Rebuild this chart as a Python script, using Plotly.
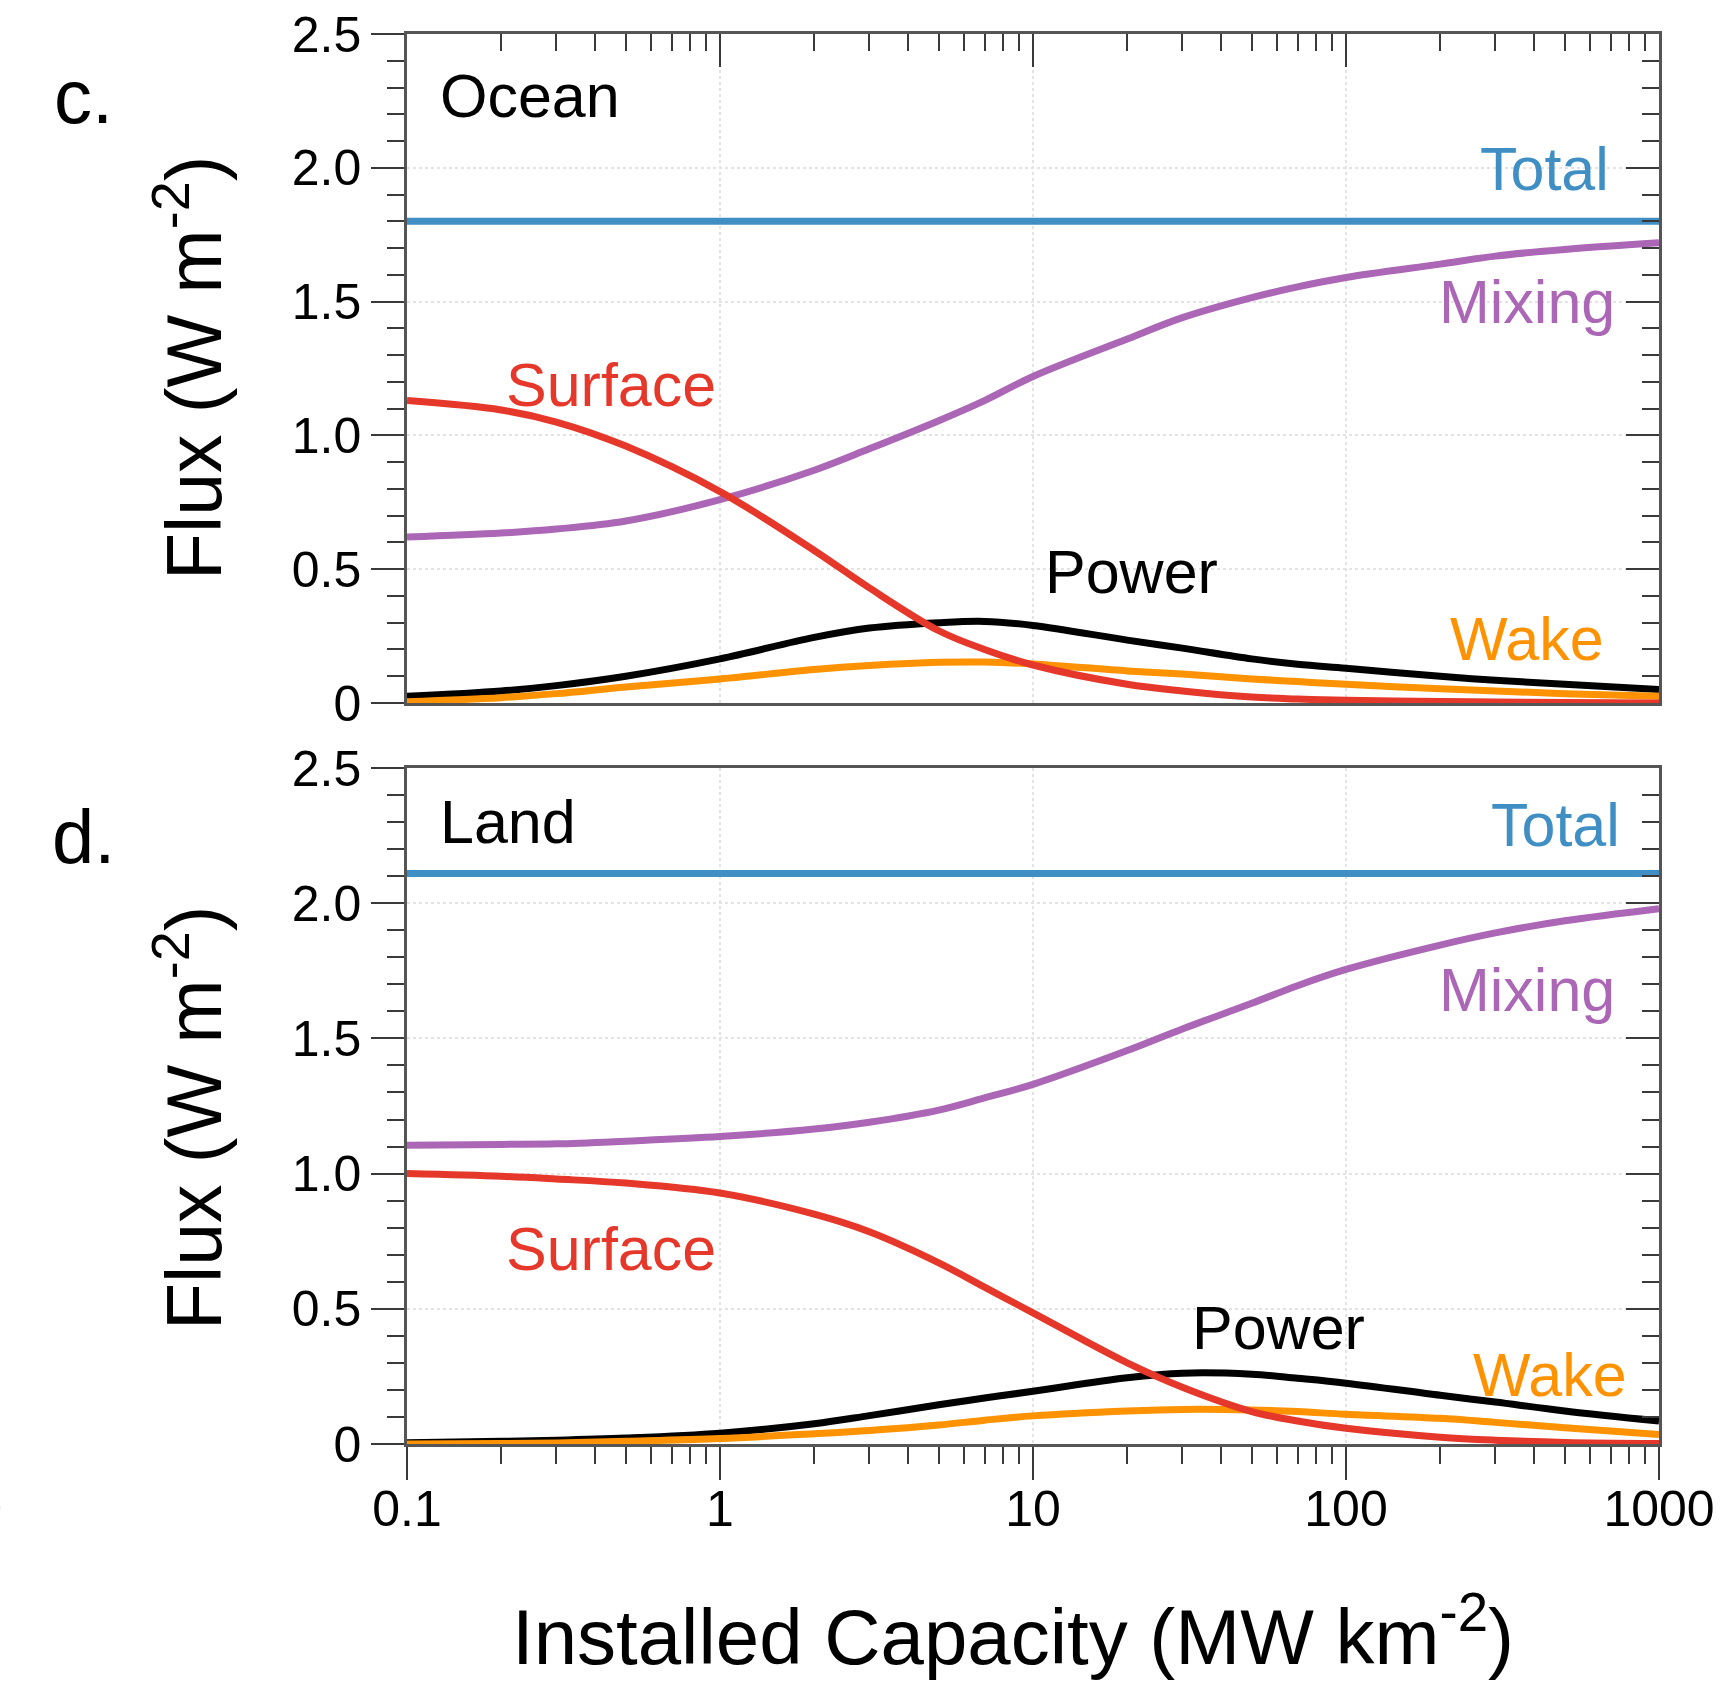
import plotly.graph_objects as go

# ---------------- data ----------------
capacity = [0.1, 0.2, 0.3, 0.5, 1, 2, 3, 5, 7, 10, 20, 30, 50, 70, 100, 200, 300, 500, 1000]

ocean_total = [1.8] * len(capacity)
ocean_mixing = [0.62, 0.635, 0.65, 0.68, 0.76, 0.87, 0.95, 1.055, 1.13, 1.22, 1.36, 1.44, 1.515, 1.555, 1.59, 1.64, 1.67, 1.695, 1.72]
ocean_surface = [1.13, 1.095, 1.05, 0.96, 0.79, 0.57, 0.43, 0.27, 0.20, 0.142, 0.07, 0.045, 0.022, 0.015, 0.01, 0.006, 0.004, 0.002, 0.0]
ocean_power = [0.025, 0.045, 0.065, 0.10, 0.165, 0.245, 0.28, 0.30, 0.305, 0.29, 0.235, 0.205, 0.165, 0.145, 0.13, 0.10, 0.085, 0.07, 0.05]
ocean_wake = [0.005, 0.02, 0.035, 0.06, 0.09, 0.125, 0.14, 0.152, 0.153, 0.146, 0.12, 0.108, 0.09, 0.08, 0.07, 0.053, 0.045, 0.035, 0.025]

land_total = [2.11] * len(capacity)
land_mixing = [1.105, 1.108, 1.11, 1.12, 1.137, 1.165, 1.19, 1.235, 1.28, 1.33, 1.455, 1.535, 1.63, 1.695, 1.755, 1.845, 1.89, 1.935, 1.98]
land_surface = [1.0, 0.99, 0.98, 0.965, 0.928, 0.85, 0.785, 0.67, 0.58, 0.485, 0.30, 0.21, 0.12, 0.085, 0.058, 0.025, 0.014, 0.006, 0.002]
land_power = [0.005, 0.01, 0.014, 0.022, 0.04, 0.075, 0.105, 0.145, 0.17, 0.195, 0.245, 0.262, 0.258, 0.243, 0.225, 0.18, 0.155, 0.122, 0.085]
land_wake = [0.0, 0.002, 0.004, 0.01, 0.02, 0.038, 0.05, 0.07, 0.088, 0.104, 0.122, 0.128, 0.126, 0.12, 0.11, 0.095, 0.08, 0.06, 0.035]

x_tickvals = [0.1, 1, 10, 100, 1000]
x_ticktext = ["0.1", "1", "10", "100", "1000"]
y_tickvals = [0, 0.5, 1.0, 1.5, 2.0, 2.5]
y_ticktext = ["0", "0.5", "1.0", "1.5", "2.0", "2.5"]

# ---------------- style ----------------
W, H = 1736, 1681
FONT = "Liberation Sans, Arial, Helvetica, sans-serif"
C_TOTAL = "#3f8fc5"
C_MIX = "#ab66b6"
C_SURF = "#e5382a"
C_POWER = "#000000"
C_WAKE = "#ff9200"
LW = 7

x_minor = [m * 10 ** d for d in range(-1, 3) for m in range(2, 10)]

def px_x(p):
    return p / W

def px_y(p):
    return 1 - p / H

xdom = [px_x(407), px_x(1659)]
ydom_top = [px_y(703), px_y(34)]
ydom_bot = [px_y(1444), px_y(768)]

fig = go.Figure()

def add_series(xa, ya, total, mixing, power, wake, surface):
    for vals, col in [(total, C_TOTAL), (mixing, C_MIX), (power, C_POWER),
                      (wake, C_WAKE), (surface, C_SURF)]:
        fig.add_trace(go.Scatter(x=capacity, y=vals, mode="lines",
                                 line=dict(color=col, width=LW, shape="spline", smoothing=1.0),
                                 xaxis=xa, yaxis=ya, hoverinfo="skip"))

add_series("x", "y", ocean_total, ocean_mixing, ocean_power, ocean_wake, ocean_surface)
add_series("x2", "y2", land_total, land_mixing, land_power, land_wake, land_surface)

# empty traces so that the mirror (frame) axes get drawn
for xa, ya in [("x3", "y"), ("x", "y3"), ("x4", "y2"), ("x2", "y4")]:
    fig.add_trace(go.Scatter(x=[None], y=[None], mode="lines", xaxis=xa, yaxis=ya,
                             hoverinfo="skip", showlegend=False))

AX_LINE = "#555555"
TICK_C = "#3a3a3a"
GRID = "#e3e3e3"
MAJ, MIN = 33, 17

def xbase(**kw):
    d = dict(type="log", range=[-1, 3], domain=xdom, showline=True, linecolor=AX_LINE,
             linewidth=2.5, zeroline=False, showgrid=True, gridcolor=GRID, griddash="dot",
             gridwidth=1.5, tickvals=x_tickvals, ticktext=x_ticktext, automargin=False,
             tickfont=dict(family=FONT, size=50, color="black"))
    d.update(kw)
    return d

def ybase(**kw):
    d = dict(range=[0, 2.5], showline=True, linecolor=AX_LINE, linewidth=2.5,
             zeroline=False, showgrid=True, gridcolor=GRID, griddash="dot", gridwidth=1.5,
             tickvals=y_tickvals, ticktext=y_ticktext, automargin=False,
             tickfont=dict(family=FONT, size=50, color="black"))
    d.update(kw)
    return d

yminor_out = dict(dtick=0.1, tick0=0, ticks="outside", ticklen=MIN, tickwidth=2,
                  tickcolor=TICK_C, showgrid=False)
yminor_in = dict(dtick=0.1, tick0=0, ticks="inside", ticklen=MIN, tickwidth=2,
                 tickcolor=TICK_C, showgrid=False)

fig.update_layout(
    width=W, height=H, margin=dict(l=0, r=0, t=0, b=0, pad=0, autoexpand=False),
    paper_bgcolor="white", plot_bgcolor="white", showlegend=False,
    # top panel
    xaxis=xbase(anchor="y", ticks="", showticklabels=False),
    yaxis=ybase(domain=ydom_top, anchor="x", ticks="outside", ticklen=MAJ, tickwidth=2,
                tickcolor=TICK_C, minor=yminor_out),
    xaxis3=xbase(anchor="y", overlaying="x", side="top", showgrid=False, ticks="inside",
                 ticklen=MAJ, tickwidth=2, tickcolor=TICK_C, showticklabels=False,
                 minor=dict(tickmode="array", tickvals=x_minor, ticks="inside", ticklen=MIN,
                            tickwidth=2, tickcolor=TICK_C, showgrid=False)),
    yaxis3=ybase(anchor="x", overlaying="y", side="right", showgrid=False, ticks="inside",
                 ticklen=MAJ, tickwidth=2, tickcolor=TICK_C, showticklabels=False,
                 minor=yminor_in),
    # bottom panel
    xaxis2=xbase(anchor="y2", ticks="outside", ticklen=MAJ, tickwidth=2, tickcolor=TICK_C,
                 ticklabelstandoff=-14,
                 minor=dict(tickmode="array", tickvals=x_minor, ticks="outside", ticklen=MIN,
                            tickwidth=2, tickcolor=TICK_C, showgrid=False)),
    yaxis2=ybase(domain=ydom_bot, anchor="x2", ticks="outside", ticklen=MAJ, tickwidth=2,
                 tickcolor=TICK_C, minor=yminor_out),
    xaxis4=xbase(anchor="y2", overlaying="x2", side="top", showgrid=False, ticks="",
                 showticklabels=False),
    yaxis4=ybase(anchor="x2", overlaying="y2", side="right", showgrid=False, ticks="inside",
                 ticklen=MAJ, tickwidth=2, tickcolor=TICK_C, showticklabels=False,
                 minor=yminor_in),
)

LBL = 61
def lab(text, x, y, xref, yref, color, xanchor="left", size=LBL):
    fig.add_annotation(text=text, x=x, y=y, xref=xref, yref=yref, showarrow=False,
                       xanchor=xanchor, yanchor="middle",
                       font=dict(family=FONT, size=size, color=color))

# top panel labels (x in log10 units)
lab("Ocean", -0.90, 2.27, "x", "y", "black")
lab("Total", 2.848, 1.995, "x", "y", C_TOTAL, "right")
lab("Mixing", 2.866, 1.50, "x", "y", C_MIX, "right")
lab("Surface", -0.689, 1.19, "x", "y", C_SURF)
lab("Power", 1.032, 0.49, "x", "y", "black")
lab("Wake", 2.327, 0.24, "x", "y", C_WAKE)
# bottom panel labels
lab("Land", -0.90, 2.30, "x2", "y2", "black")
lab("Total", 2.883, 2.29, "x2", "y2", C_TOTAL, "right")
lab("Mixing", 2.866, 1.68, "x2", "y2", C_MIX, "right")
lab("Surface", -0.689, 0.72, "x2", "y2", C_SURF)
lab("Power", 1.503, 0.43, "x2", "y2", "black")
lab("Wake", 2.398, 0.254, "x2", "y2", C_WAKE)

# panel letters
fig.add_annotation(text="c.", x=px_x(83), y=px_y(97), xref="paper", yref="paper",
                   showarrow=False, xanchor="center", yanchor="middle",
                   font=dict(family=FONT, size=76, color="black"))
fig.add_annotation(text="d.", x=px_x(83), y=px_y(836), xref="paper", yref="paper",
                   showarrow=False, xanchor="center", yanchor="middle",
                   font=dict(family=FONT, size=76, color="black"))

# axis titles
for cy in (368, 1118):
    fig.add_annotation(text="Flux (W m<sup>-2</sup>)", x=px_x(188), y=px_y(cy),
                       xref="paper", yref="paper", showarrow=False, textangle=-90,
                       xanchor="center", yanchor="middle",
                       font=dict(family=FONT, size=77, color="black"))
fig.add_annotation(text="Installed Capacity (MW km<sup>-2</sup>)", x=px_x(1013), y=px_y(1631),
                   xref="paper", yref="paper", showarrow=False, xanchor="center",
                   yanchor="middle", font=dict(family=FONT, size=78, color="black"))

# cropped fragment of neighbouring panel's tick label at far left edge
fig.add_annotation(text="0", x=px_x(5), y=px_y(1508), xref="paper", yref="paper",
                   showarrow=False, xanchor="right", yanchor="middle",
                   font=dict(family=FONT, size=64, color="black"))

fig.write_html("out.html", config={"displayModeBar": False},
               post_script="document.body.style.margin='0';document.body.style.padding='0';")
